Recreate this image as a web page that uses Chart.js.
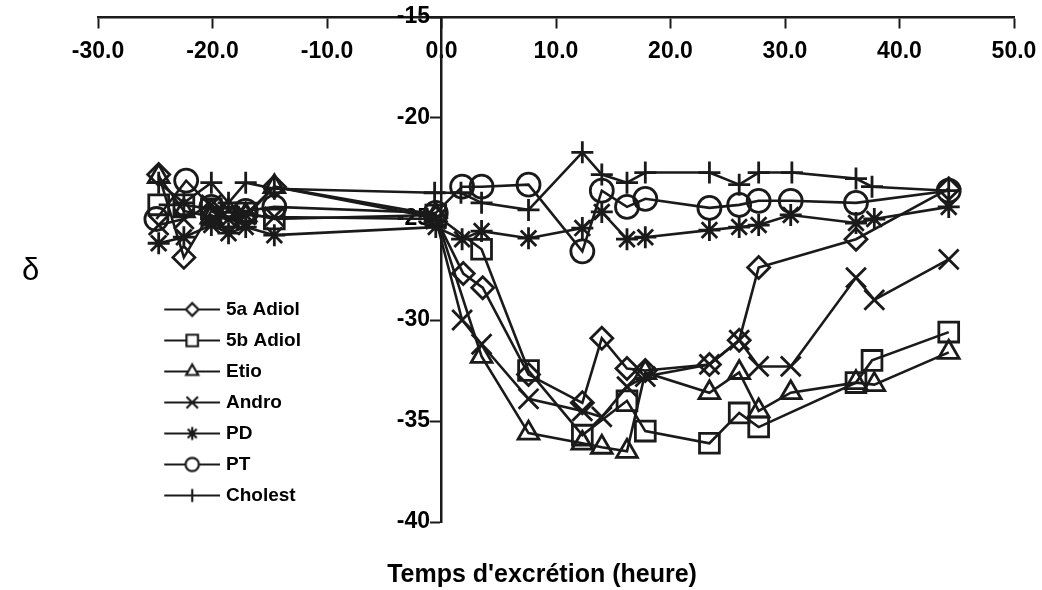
<!DOCTYPE html>
<html>
<head>
<meta charset="utf-8">
<script src="https://cdn.jsdelivr.net/npm/chart.js@4.4.1/dist/chart.umd.min.js"></script>
<style>
  html, body { margin: 0; padding: 0; background: #fff; }
  #wrap { width: 1042px; height: 590px; position: relative; }
</style>
</head>
<body>
<div id="wrap"><canvas id="c"></canvas></div>
<script>
// ---- data (time in hours, delta values) ----
const seriesNames = ['5a Adiol', '5b Adiol', 'Etio', 'Andro', 'PD', 'PT', 'Cholest'];

const t5aAdiol = [-24.7, -22.5, -20.1, -18.6, -17.1, -14.6, -0.5, 1.9, 3.6, 7.6, 12.3, 14.0, 16.2, 17.8, 23.4, 26.0, 27.7, 36.2, 44.3];
const v5aAdiol = [-22.8, -26.9, -24.6, -25.1, -24.9, -23.4, -24.95, -27.7, -28.4, -32.7, -34.1, -30.9, -32.4, -32.5, -32.2, -31.0, -27.4, -26.0, -23.5];

const t5bAdiol = [-24.7, -22.5, -20.1, -18.6, -17.1, -14.6, -0.5, 3.5, 7.6, 12.3, 16.2, 17.8, 23.4, 26.0, 27.7, 36.2, 37.6, 44.3];
const v5bAdiol = [-24.3, -24.3, -24.5, -24.9, -24.7, -25.0, -24.8, -26.5, -32.5, -35.7, -34.0, -35.5, -36.1, -34.6, -35.3, -33.1, -32.0, -30.6];

const tEtio = [-24.7, -22.5, -20.1, -18.6, -17.1, -14.6, -0.5, 3.5, 7.6, 12.3, 14.0, 16.2, 17.8, 23.4, 26.0, 27.7, 30.5, 36.2, 37.8, 44.3];
const vEtio = [-22.9, -24.6, -24.9, -24.6, -24.8, -23.4, -24.8, -31.8, -35.6, -36.1, -36.3, -36.5, -32.6, -33.6, -32.6, -34.5, -33.6, -33.1, -33.2, -31.6];

const tAndro = [-24.7, -22.5, -20.1, -18.6, -17.1, -14.6, -0.5, 1.8, 3.5, 7.6, 12.3, 14.0, 16.2, 17.8, 23.4, 26.0, 27.7, 30.5, 36.2, 37.8, 44.3];
const vAndro = [-25.3, -25.0, -24.3, -25.0, -24.8, -24.9, -25.0, -30.0, -31.2, -33.9, -34.5, -34.8, -33.3, -32.8, -32.2, -31.0, -32.3, -32.3, -27.9, -29.0, -27.0];

const tPD = [-24.7, -22.5, -20.1, -18.6, -17.1, -14.6, -0.5, 1.8, 3.5, 7.6, 12.3, 14.0, 16.2, 17.8, 23.4, 26.0, 27.7, 30.5, 36.2, 37.8, 44.3];
const vPD = [-26.2, -25.9, -25.3, -25.7, -25.4, -25.8, -25.4, -26.0, -25.6, -25.95, -25.45, -24.65, -26.0, -25.9, -25.55, -25.4, -25.3, -24.8, -25.2, -25.0, -24.4];

const tPT = [-24.9, -22.3, -20.1, -17.1, -14.6, -0.5, 1.8, 3.5, 7.6, 12.3, 14.0, 16.2, 17.8, 23.4, 26.0, 27.7, 30.5, 36.2, 44.3];
const vPT = [-25.0, -23.1, -24.4, -24.6, -24.4, -24.7, -23.4, -23.4, -23.3, -26.6, -23.6, -24.4, -24.0, -24.45, -24.3, -24.1, -24.1, -24.2, -23.6];

const tCholest = [-24.7, -22.5, -20.1, -18.6, -17.1, -14.6, -0.6, 1.7, 3.5, 7.6, 12.3, 14.0, 16.2, 17.8, 23.4, 26.0, 27.7, 30.6, 36.2, 37.6, 44.3];
const vCholest = [-23.2, -24.2, -23.2, -24.2, -23.2, -23.5, -23.7, -23.7, -24.2, -24.55, -21.7, -22.8, -23.2, -22.7, -22.7, -23.3, -22.7, -22.7, -23.0, -23.4, -23.6];

// axis ticks
const xMin = -30, xMax = 50, xStep = 10;
const yMin = -40, yMax = -15, yStep = 5;
const xTitle = "Temps d'excrétion (heure)";
const yTitle = 'δ';
const yTitleAt = -27.6;

// ---- build ----
const allT = [t5aAdiol, t5bAdiol, tEtio, tAndro, tPD, tPT, tCholest];
const allV = [v5aAdiol, v5bAdiol, vEtio, vAndro, vPD, vPT, vCholest];
const styles = ['rectRot', 'rect', 'triangle', 'crossRot', 'star', 'circle', 'cross'];
const radii = [11, 14, 12, 14, 11, 11.5, 11];
const FONT = 'Arial, "Liberation Sans", Helvetica, sans-serif';

function zip(ts, vs) { return ts.map((t, i) => ({ x: t, y: vs[i] })); }

const datasets = seriesNames.map((name, i) => ({
  label: name,
  data: zip(allT[i], allV[i]),
  xAxisID: 'x',
  yAxisID: 'y',
  borderColor: '#1a1a1a',
  backgroundColor: '#ffffff',
  borderWidth: 2.6,
  pointStyle: styles[i],
  pointRadius: radii[i],
  pointBorderWidth: 2.8,
  pointBackgroundColor: 'rgba(255,255,255,0)',
  pointBorderColor: '#1a1a1a',
  tension: 0,
  fill: false
}));

// legend swatches: short line with the marker in the middle
function makeSwatch(style, r) {
  const cv = document.createElement('canvas');
  cv.width = 114; cv.height = 24;
  const ctx = cv.getContext('2d');
  ctx.strokeStyle = '#1a1a1a';
  ctx.fillStyle = '#ffffff';
  ctx.lineWidth = 2.2;
  ctx.beginPath(); ctx.moveTo(58, 12); ctx.lineTo(114, 12); ctx.stroke();
  Chart.helpers.drawPoint(ctx, { pointStyle: style, radius: r, rotation: 0, borderWidth: 2.2 }, 86, 12);
  return cv;
}
const swatches = styles.map((s, i) => makeSwatch(s, radii[i] * 0.58));

// nudges the in-plot legend block down a little
const legendShift = {
  id: 'legendShift',
  afterLayout(chart) {
    const lg = chart.legend;
    if (lg) { lg.top += 12; lg.bottom += 12; }
  }
};

new Chart(document.getElementById('c'), {
  type: 'line',
  data: { datasets },
  plugins: [legendShift],
  options: {
    responsive: true,
    maintainAspectRatio: false,
    animation: false,
    layout: { padding: { left: 42, right: 0, top: 17, bottom: 0 } },
    scales: {
      x: {
        type: 'linear',
        position: { y: yMax },
        min: xMin, max: xMax,
        ticks: {
          stepSize: xStep,
          callback: (v) => Number(v).toFixed(1),
          font: { family: FONT, size: 23, weight: 'bold' },
          color: '#000',
          padding: 11,
          maxRotation: 0
        },
        grid: { drawOnChartArea: false, drawTicks: true, tickLength: 10, tickColor: '#1a1a1a', tickWidth: 2 },
        border: { display: true, color: '#1a1a1a', width: 2.5 },
        afterFit: (s) => { s.paddingLeft = 0; s.paddingRight = 0; }
      },
      y: {
        type: 'linear',
        position: { x: 0 },
        min: yMin, max: yMax,
        ticks: {
          stepSize: yStep,
          callback: (v) => String(v) + '\u2002',
          font: { family: FONT, size: 23, weight: 'bold' },
          color: '#000',
          padding: 2
        },
        grid: { drawOnChartArea: false, drawTicks: true, tickLength: 10, tickColor: '#1a1a1a', tickWidth: 2 },
        border: { display: true, color: '#1a1a1a', width: 2.5 }
      },
      yd: {
        type: 'linear',
        position: 'left',
        min: yMin, max: yMax,
        grid: { display: false, drawTicks: false },
        border: { display: false },
        ticks: {
          font: { family: FONT, size: 31 },
          color: '#000',
          mirror: true,
          padding: -76,
          callback: () => yTitle
        },
        afterBuildTicks: (s) => { s.ticks = [{ value: yTitleAt }]; },
        afterFit: (s) => { s.width = 56; s.paddingTop = 0; s.paddingBottom = 0; }
      },
      yr: {
        type: 'linear',
        position: 'right',
        grid: { display: false, drawTicks: false },
        border: { display: false },
        ticks: { display: false },
        afterFit: (s) => { s.width = 28; s.paddingTop = 0; s.paddingBottom = 0; }
      }
    },
    plugins: {
      title: {
        display: true,
        position: 'bottom',
        text: xTitle,
        color: '#000',
        font: { family: FONT, size: 25, weight: 'bold' },
        padding: { top: 38, bottom: 0 }
      },
      legend: {
        position: 'chartArea',
        align: 'end',
        labels: {
          usePointStyle: true,
          pointStyleWidth: 106.5,
          boxHeight: 19,
          padding: 12,
          color: '#000',
          font: { family: FONT, size: 19, weight: 'bold' },
          generateLabels: (chart) => {
            const items = Chart.defaults.plugins.legend.labels.generateLabels(chart);
            items.forEach((it, i) => { it.pointStyle = swatches[i]; });
            return items;
          }
        }
      },
      tooltip: { enabled: false }
    }
  }
});
</script>
</body>
</html>
